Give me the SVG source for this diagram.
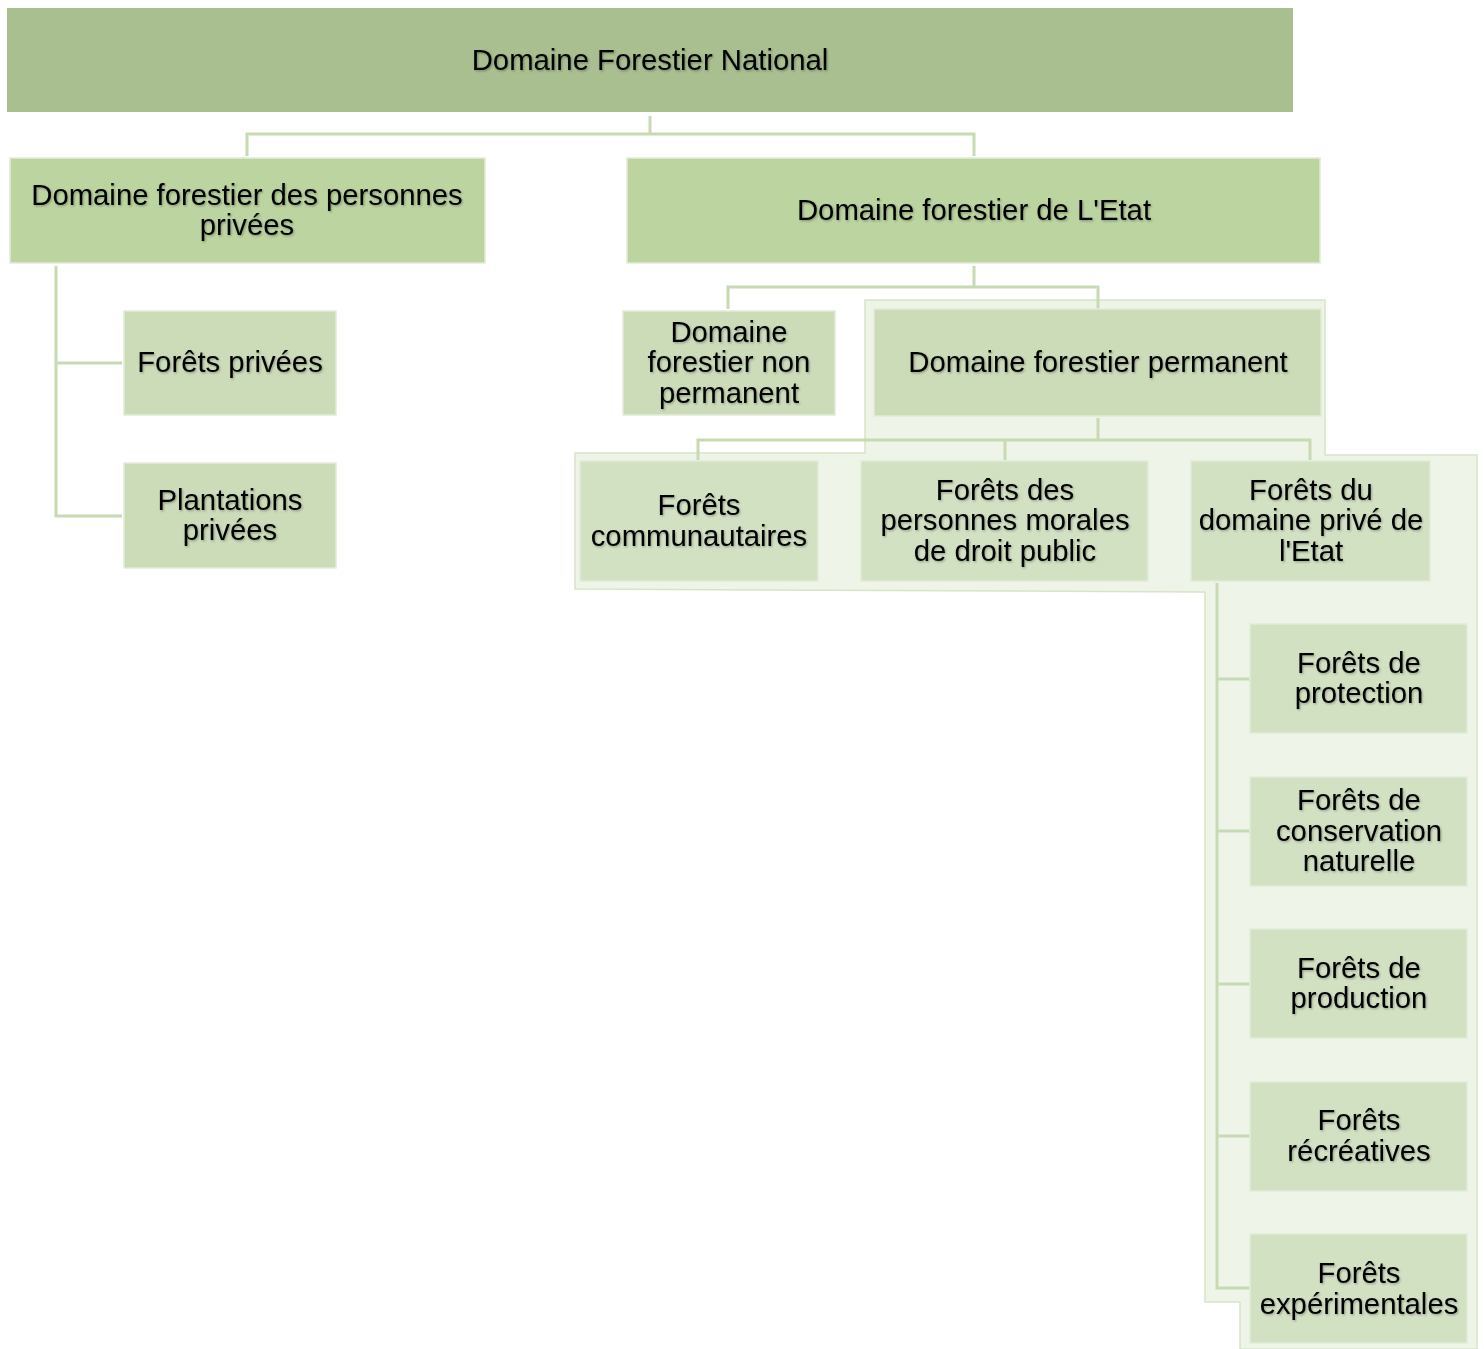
<svg xmlns="http://www.w3.org/2000/svg" width="1484" height="1349" viewBox="0 0 1484 1349">
<style>
  text { font-family: "Liberation Sans", Arial, sans-serif; font-size: 29.3px; fill: #000; text-anchor: middle; }
  .t { filter: url(#sh); }
  .l1 { fill: #a9bf8f; }
  .l2 { fill: #bcd4a0; }
  .l3 { fill: #ccdcb8; }
  .l4 { fill: #d3e1c3; }
  .conn { fill: none; stroke: #c8dab3; stroke-width: 3; }
  .hl { fill: #eff4e9; stroke: #d6e4c8; stroke-width: 1.5; }
  .bd { stroke: #e2ebd7; stroke-width: 1.5; }
</style>
<defs>
  <filter id="sh" x="-5%" y="-20%" width="110%" height="140%">
    <feDropShadow dx="1" dy="1.2" stdDeviation="0.8" flood-color="#000" flood-opacity="0.3"/>
  </filter>
</defs>
<rect width="1484" height="1349" fill="#fff"/>
<g id="highlight">
  <polygon class="hl" points="865,300 1325,300 1325,455 1477,455 1477,1349 1240,1349 1240,1302 1205,1302 1205,592 575,589 575,453 865,453"/>
</g>
<g id="connectors">
  <path class="conn" d="M650,116 V134 M247,156 V134 H974 V156"/>
  <path class="conn" d="M56,266 V516 H122 M56,363 H122"/>
  <path class="conn" d="M974,266 V287 M728,309 V287 H1098 V309"/>
  <path class="conn" d="M1098,418 V440 M698,460 V440 H1310 V460 M1005,440 V460"/>
  <path class="conn" d="M1217,583 V1288 H1250 M1217,679 H1250 M1217,831 H1250 M1217,984 H1250 M1217,1136 H1250"/>
</g>
<g id="n-national">
  <rect class="l1" x="7" y="8" width="1286" height="104"/>
  <text class="t" x="650" y="70">Domaine Forestier National</text>
</g>
<g id="n-prives">
  <rect class="l2 bd" x="10" y="158" width="475" height="105"/>
  <text class="t" x="247" y="205">Domaine forestier des personnes</text>
  <text class="t" x="247" y="235">privées</text>
</g>
<g id="n-etat">
  <rect class="l2 bd" x="627" y="158" width="693" height="105"/>
  <text class="t" x="974" y="220">Domaine forestier de L'Etat</text>
</g>
<g id="n-forets-privees">
  <rect class="l3 bd" x="124" y="311" width="212" height="104"/>
  <text class="t" x="230" y="372">Forêts privées</text>
</g>
<g id="n-plantations">
  <rect class="l3 bd" x="124" y="463" width="212" height="105"/>
  <text class="t" x="230" y="510">Plantations</text>
  <text class="t" x="230" y="540">privées</text>
</g>
<g id="n-non-permanent">
  <rect class="l3 bd" x="623" y="311" width="212" height="104"/>
  <text class="t" x="729" y="342">Domaine</text>
  <text class="t" x="729" y="372">forestier non</text>
  <text class="t" x="729" y="403">permanent</text>
</g>
<g id="n-permanent">
  <rect class="l3 bd" x="874" y="309" width="447" height="107"/>
  <text class="t" x="1098" y="372">Domaine forestier permanent</text>
</g>
<g id="n-communautaires">
  <rect class="l4 bd" x="580" y="461" width="238" height="120"/>
  <text class="t" x="699" y="515">Forêts</text>
  <text class="t" x="699" y="546">communautaires</text>
</g>
<g id="n-morales">
  <rect class="l4 bd" x="861" y="461" width="287" height="120"/>
  <text class="t" x="1005" y="500">Forêts des</text>
  <text class="t" x="1005" y="530">personnes morales</text>
  <text class="t" x="1005" y="561">de droit public</text>
</g>
<g id="n-domaine-prive">
  <rect class="l4 bd" x="1191" y="461" width="239" height="120"/>
  <text class="t" x="1311" y="500">Forêts du</text>
  <text class="t" x="1311" y="530">domaine privé de</text>
  <text class="t" x="1311" y="561">l'Etat</text>
</g>
<g id="n-protection">
  <rect class="l4 bd" x="1250" y="624" width="217" height="109"/>
  <text class="t" x="1359" y="673">Forêts de</text>
  <text class="t" x="1359" y="703">protection</text>
</g>
<g id="n-conservation">
  <rect class="l4 bd" x="1250" y="777" width="217" height="109"/>
  <text class="t" x="1359" y="810">Forêts de</text>
  <text class="t" x="1359" y="841">conservation</text>
  <text class="t" x="1359" y="871">naturelle</text>
</g>
<g id="n-production">
  <rect class="l4 bd" x="1250" y="929" width="217" height="109"/>
  <text class="t" x="1359" y="978">Forêts de</text>
  <text class="t" x="1359" y="1008">production</text>
</g>
<g id="n-recreatives">
  <rect class="l4 bd" x="1250" y="1082" width="217" height="109"/>
  <text class="t" x="1359" y="1130">Forêts</text>
  <text class="t" x="1359" y="1161">récréatives</text>
</g>
<g id="n-experimentales">
  <rect class="l4 bd" x="1250" y="1234" width="217" height="109"/>
  <text class="t" x="1359" y="1283">Forêts</text>
  <text class="t" x="1359" y="1314">expérimentales</text>
</g>
</svg>
